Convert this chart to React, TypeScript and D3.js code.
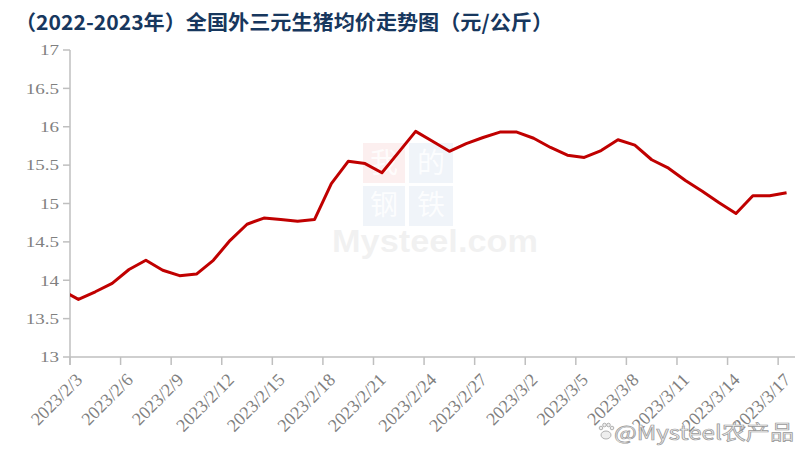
import React from 'react';
import * as d3 from 'd3';

const title = '（2022-2023年）全国外三元生猪均价走势图（元/公斤）';

const dates = [
  '2023/2/3', '2023/2/4', '2023/2/5', '2023/2/6', '2023/2/7', '2023/2/8', '2023/2/9', '2023/2/10',
  '2023/2/11', '2023/2/12', '2023/2/13', '2023/2/14', '2023/2/15', '2023/2/16', '2023/2/17', '2023/2/18',
  '2023/2/19', '2023/2/20', '2023/2/21', '2023/2/22', '2023/2/23', '2023/2/24', '2023/2/25', '2023/2/26',
  '2023/2/27', '2023/2/28', '2023/3/1', '2023/3/2', '2023/3/3', '2023/3/4', '2023/3/5', '2023/3/6',
  '2023/3/7', '2023/3/8', '2023/3/9', '2023/3/10', '2023/3/11', '2023/3/12', '2023/3/13', '2023/3/14',
  '2023/3/15', '2023/3/16', '2023/3/17',
];

// previous day (2023/2/2), only its segment shows inside the plot
const leadIn = 13.87;

const prices = [
  13.75, 13.85, 13.96, 14.14, 14.26, 14.13, 14.06, 14.08,
  14.26, 14.52, 14.73, 14.81, 14.79, 14.77, 14.79, 15.26,
  15.55, 15.52, 15.4, 15.67, 15.94, 15.81, 15.68, 15.78,
  15.86, 15.93, 15.93, 15.85, 15.73, 15.63, 15.6, 15.69,
  15.83, 15.76, 15.57, 15.46, 15.3, 15.16, 15.01, 14.87,
  15.1, 15.1, 15.14,
];

const yTicks = [13, 13.5, 14, 14.5, 15, 15.5, 16, 16.5, 17];

const W = 810;
const H = 460;
const left = 70;
const right = 795;
const top = 50;
const bottom = 357;

const axisColor = '#bfbfbf';
const labelColor = '#808080';
const serif = '"Liberation Serif", "Times New Roman", serif';
const cjk = '"Noto Sans CJK SC", sans-serif';

export default function App() {
  const n = dates.length;
  const x = d3.scaleLinear().domain([0, n]).range([left, right]);
  const y = d3.scaleLinear().domain([13, 17]).range([bottom, top]);

  const pts: [number, number][] = [[-0.5, leadIn], ...prices.map((v, i) => [i + 0.5, v] as [number, number])];
  const line = d3
    .line<[number, number]>()
    .x(d => x(d[0]))
    .y(d => y(d[1]));

  const tickIdx = d3.range(0, n, 3);

  return (
    <svg width={W} height={H} style={{ position: 'absolute', left: 0, top: 0, background: '#fff' }}>
      <defs>
        <clipPath id="plot">
          <rect x={left} y={top - 10} width={right - left} height={bottom - top + 10} />
        </clipPath>
      </defs>

      <text
        x={15}
        y={30}
        fill="#17375e"
        fontSize={20.5}
        fontWeight="bold"
        fontFamily={cjk}
        textLength={538}
        lengthAdjust="spacingAndGlyphs"
      >
        {title}
      </text>

      {/* center watermark */}
      <g opacity={0.07}>
        <rect x={363} y={143} width={42} height={40} fill="#e03030" />
        <rect x={409} y={143} width={44} height={40} fill="#3a6fb0" />
        <rect x={363} y={186} width={42} height={40} fill="#3a6fb0" />
        <rect x={409} y={186} width={44} height={40} fill="#3a6fb0" />
      </g>
      <g fontFamily={cjk} fontSize={28} fill="#ffffff" opacity={0.85} textAnchor="middle">
        <text x={384} y={173}>我</text>
        <text x={431} y={173}>的</text>
        <text x={384} y={215}>钢</text>
        <text x={431} y={215}>铁</text>
      </g>
      <text x={332} y={252} fontFamily="Arial, 'Liberation Sans', sans-serif" fontWeight="bold" fontSize={31} fill="#000" opacity={0.05} textLength={206} lengthAdjust="spacingAndGlyphs">
        Mysteel.com
      </text>

      {/* y axis */}
      <line x1={left} x2={left} y1={top} y2={bottom + 8} stroke={axisColor} strokeWidth={1.5} />
      {yTicks.map(t => (
        <g key={t}>
          <line x1={left - 7} x2={left} y1={y(t)} y2={y(t)} stroke={axisColor} strokeWidth={1.5} />
          <text
            transform={`translate(${left - 11},${y(t)}) scale(1.27,1)`}
            dy="0.35em"
            textAnchor="end"
            fontFamily={serif}
            fontSize={15}
            fill={labelColor}
          >
            {String(t)}
          </text>
        </g>
      ))}

      {/* x axis */}
      <line x1={left} x2={right} y1={bottom} y2={bottom} stroke={axisColor} strokeWidth={1.5} />
      {tickIdx.map(i => (
        <line key={'t' + i} x1={x(i)} x2={x(i)} y1={bottom} y2={bottom + 8} stroke={axisColor} strokeWidth={1.5} />
      ))}
      {tickIdx.map(i => (
        <text
          key={'l' + i}
          transform={`translate(${x(i + 0.5) + 5},${bottom + 24}) rotate(-45)`}
          textAnchor="end"
          fontFamily={serif}
          fontSize={18}
          fill={labelColor}
        >
          {dates[i]}
        </text>
      ))}

      <path d={line(pts) ?? ''} fill="none" stroke="#c00000" strokeWidth={3} strokeLinejoin="round" clipPath="url(#plot)" />

      {/* corner watermark */}
      <g fill="#eeeeee" stroke="#a0a0a0" strokeWidth={0.8}>
        <ellipse cx={606} cy={435} rx={5} ry={4} />
        <circle cx={601} cy={428} r={1.8} />
        <circle cx={604.5} cy={425} r={1.8} />
        <circle cx={608.5} cy={425} r={1.8} />
        <circle cx={612} cy={428} r={1.8} />
      </g>
      <text
        x={614}
        y={440}
        fontFamily={cjk}
        fontSize={20}
        fill="#eeeeee"
        stroke="#999999"
        strokeWidth={0.7}
        textLength={180}
        lengthAdjust="spacingAndGlyphs"
      >
        @Mysteel农产品
      </text>
    </svg>
  );
}
